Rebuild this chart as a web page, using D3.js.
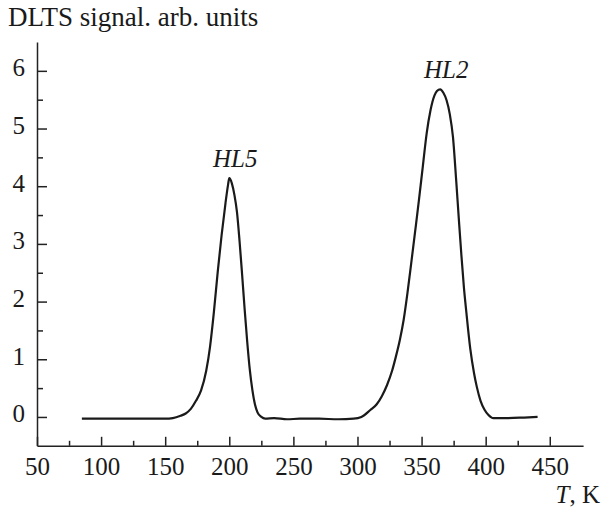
<!DOCTYPE html>
<html>
<head>
<meta charset="utf-8">
<script src="https://cdn.jsdelivr.net/npm/d3@7/dist/d3.min.js"></script>
<style>
  html, body { margin: 0; padding: 0; background: #fff; }
  svg { display: block; }
  svg text { font-family: "Liberation Serif", "DejaVu Serif", serif !important; fill: #1a1a1a; }
</style>
</head>
<body>
<svg id="chart" width="603" height="508"></svg>
<script>
// ---- data ----
const temperature = [85, 100, 120, 140, 150, 156, 162, 166, 170, 174, 178, 182, 185, 188, 191, 194, 197, 199, 200, 202, 204, 206, 208, 210, 212, 214, 216, 218, 220, 222, 225, 228, 235, 245, 255, 270, 285, 297, 303, 310, 315, 319, 323, 327, 330, 333, 336, 339, 342, 345, 348, 351, 354, 357, 360, 362, 364.5, 367, 369.5, 372, 374.5, 377, 379, 381, 383, 385, 388, 391, 393, 396, 399, 402, 406, 415, 430, 440.5];
const signal = [-0.03, -0.03, -0.03, -0.03, -0.03, -0.02, 0.02, 0.06, 0.14, 0.28, 0.46, 0.80, 1.22, 1.82, 2.52, 3.15, 3.70, 4.02, 4.14, 4.05, 3.85, 3.55, 3.05, 2.47, 1.86, 1.30, 0.82, 0.47, 0.22, 0.08, 0.0, -0.03, -0.02, -0.04, -0.03, -0.03, -0.04, -0.03, 0.0, 0.12, 0.22, 0.36, 0.55, 0.80, 1.05, 1.33, 1.68, 2.15, 2.68, 3.22, 3.77, 4.35, 4.92, 5.32, 5.57, 5.65, 5.68, 5.62, 5.49, 5.25, 4.85, 4.10, 3.45, 2.82, 2.25, 1.80, 1.18, 0.75, 0.53, 0.28, 0.13, 0.04, -0.02, -0.02, -0.01, 0.0];
const xTicks = [50, 100, 150, 200, 250, 300, 350, 400, 450];
const xMinorTicks = [75, 125, 175, 225, 275, 325, 375, 425];
const yTicks = [0, 1, 2, 3, 4, 5, 6];
const yMinorTicks = [0.5, 1.5, 2.5, 3.5, 4.5, 5.5];
const peakLabels = [
  { name: "HL", index: "5", t: 200, v: 4.14 },
  { name: "HL", index: "2", t: 364.5, v: 5.68 }
];
const yTitle = "DLTS signal. arb. units";

// ---- layout ----
const FONT = "'Liberation Serif', 'DejaVu Serif', serif";
const svg = d3.select("#chart");
const x = d3.scaleLinear().domain([50, 476]).range([37, 583.1]);
const y = d3.scaleLinear().domain([-0.5, 6.5]).range([445.8, 42]);
const axisColor = "#222";

// x axis
const gx = svg.append("g").attr("transform", `translate(0,${y(-0.5)})`);
gx.call(d3.axisBottom(x).tickValues(xTicks).tickSizeInner(-9).tickSizeOuter(0).tickPadding(11).tickFormat(d3.format("d")));
const gxm = svg.append("g").attr("transform", `translate(0,${y(-0.5)})`);
gxm.call(d3.axisBottom(x).tickValues(xMinorTicks).tickSizeInner(-5).tickSizeOuter(0).tickFormat(""));
gxm.select(".domain").remove();

// y axis
const gy = svg.append("g").attr("transform", `translate(${x(50)},0)`);
gy.call(d3.axisLeft(y).tickValues(yTicks).tickSizeInner(-10).tickSizeOuter(0).tickPadding(12).tickFormat(d3.format("d")));
const gym = svg.append("g").attr("transform", `translate(${x(50)},0)`);
gym.call(d3.axisLeft(y).tickValues(yMinorTicks).tickSizeInner(-6).tickSizeOuter(0).tickFormat(""));
gym.select(".domain").remove();

[gx, gxm, gy, gym].forEach(g => {
  g.attr("font-family", FONT);
  g.selectAll("path.domain").attr("stroke", axisColor).attr("stroke-width", 1.5);
  g.selectAll(".tick line").attr("stroke", axisColor).attr("stroke-width", 1.5);
});
gx.selectAll(".tick text").attr("font-size", 25).attr("fill", "#1a1a1a").attr("dy", "0.71em");
gy.selectAll(".tick text").attr("font-size", 25).attr("fill", "#1a1a1a").attr("dy", "0.2em");

// titles
svg.append("text").attr("x", 8).attr("y", 26).attr("font-size", 27).attr("font-family", FONT).text(yTitle);
const tk = svg.append("text").attr("x", 600).attr("y", 503).attr("font-size", 25)
  .attr("font-family", FONT).attr("text-anchor", "end");
tk.append("tspan").attr("font-style", "italic").text("T");
tk.append("tspan").text(", K");

// curve
const pts = temperature.map((t, i) => [t, signal[i]]);
const line = d3.line().x(d => x(d[0])).y(d => y(d[1])).curve(d3.curveMonotoneX);
svg.append("path").datum(pts).attr("d", line)
  .attr("fill", "none").attr("stroke", "#1a1a1a").attr("stroke-width", 2.2)
  .attr("stroke-linejoin", "round");

// peak labels
peakLabels.forEach(p => {
  const t = svg.append("text").attr("x", x(p.t) + 6).attr("y", y(p.v) - 11)
    .attr("font-size", 25).attr("font-family", FONT).attr("text-anchor", "middle");
  t.append("tspan").attr("font-style", "italic").text(p.name);
  t.append("tspan").attr("font-style", "italic").text(p.index);
});
</script>
</body>
</html>
